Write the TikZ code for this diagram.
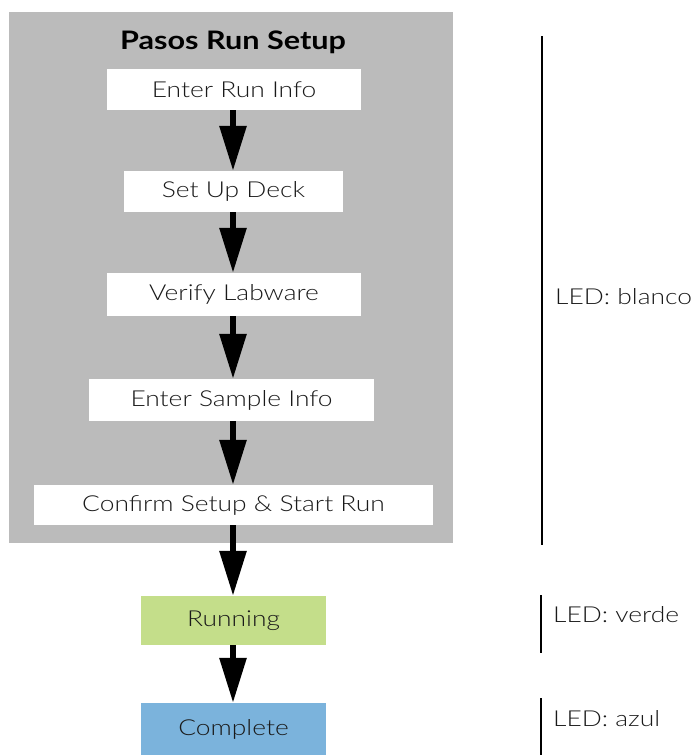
\documentclass[tikz,border=0pt]{standalone}
\usepackage{fontspec}
\setmainfont{Lato Light}[BoldFont=Lato Bold, FakeStretch=1.2]
\usetikzlibrary{arrows.meta}
\definecolor{panelgray}{HTML}{BBBBBB}
\definecolor{rungreen}{HTML}{C4DE8A}
\definecolor{doneblue}{HTML}{7BB3DC}
\definecolor{txt}{HTML}{1A1A1A}
\tikzset{
  stepbox/.style={rectangle, fill=white, inner sep=0pt, text=txt, font=\fontsize{22}{25}\selectfont},
  flowarrow/.style={line width=6pt, -{Triangle[width=26pt,length=45pt]}},
  ledbar/.style={line width=2.5pt},
  ledtext/.style={anchor=west, inner sep=0pt, text=txt, font=\fontsize{22}{25}\selectfont},
}
\begin{document}
\begin{tikzpicture}[x=1pt, y=-1pt]
\useasboundingbox (0,0) rectangle (695,755);
\node[rectangle, fill=panelgray, minimum width=444pt, minimum height=531pt, inner sep=0pt] (panel) at (231,277.5) {};
\node[inner sep=0pt, font=\fontsize{25.5}{28}\selectfont\bfseries] (title) at (233,42) {Pasos Run Setup};
\node[stepbox, minimum width=254pt, minimum height=41pt] (b1) at (234,89.5) {Enter Run Info};
\node[stepbox, minimum width=219pt, minimum height=41pt] (b2) at (233.5,191.5) {Set Up Deck};
\node[stepbox, minimum width=254pt, minimum height=43pt] (b3) at (234,294.5) {Verify Labware};
\node[stepbox, minimum width=285pt, minimum height=42pt] (b4) at (231.5,400) {Enter Sample Info};
\node[stepbox, minimum width=399pt, minimum height=40pt] (b5) at (233.5,505) {Confirm Setup \& Start Run};
\node[stepbox, fill=rungreen, minimum width=185pt, minimum height=49pt] (run) at (233.5,620.5) {Running};
\node[stepbox, fill=doneblue, minimum width=185pt, minimum height=52pt] (done) at (233.5,729) {Complete};
\coordinate (ax) at (233,0);
\draw[flowarrow] (b1.south -| ax) -- (b2.north -| ax);
\draw[flowarrow] (b2.south -| ax) -- (b3.north -| ax);
\draw[flowarrow] (b3.south -| ax) -- (b4.north -| ax);
\draw[flowarrow] (b4.south -| ax) -- (b5.north -| ax);
\draw[flowarrow] (b5.south -| ax) -- (run.north -| ax);
\draw[flowarrow] (run.south -| ax) -- (done.north -| ax);
\coordinate (w1) at (542,36);
\coordinate (w2) at (542,545);
\coordinate (g1) at (541,595);
\coordinate (g2) at (541,653);
\coordinate (a1) at (541,698);
\coordinate (a2) at (541,755);
\draw[ledbar] (w1) -- (w2);
\draw[ledbar] (g1) -- (g2);
\draw[ledbar] (a1) -- (a2);
\node[ledtext] (lw) at (555,297) {LED: blanco};
\node[ledtext] (lg) at (553,615) {LED: verde};
\node[ledtext] (la) at (553,719) {LED: azul};
\end{tikzpicture}
\end{document}
